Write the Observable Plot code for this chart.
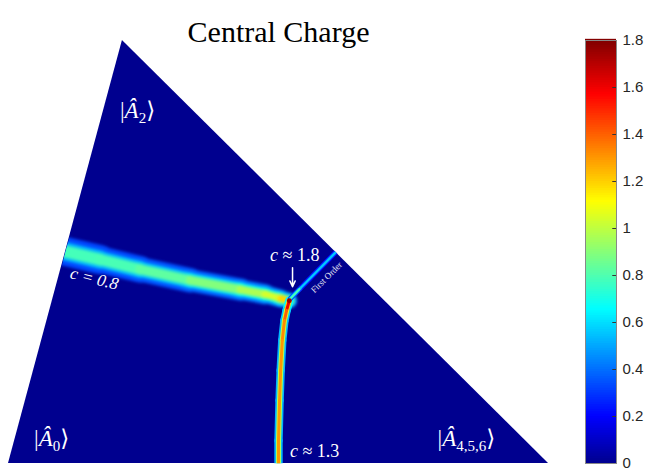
<!DOCTYPE html>
<html>
<head>
<meta charset="utf-8">
<script src="https://cdn.jsdelivr.net/npm/d3@7"></script>
<script src="https://cdn.jsdelivr.net/npm/@observablehq/plot@0.6"></script>
<style>
  body { margin: 0; background: #fff; }
  #wrap { position: relative; width: 648px; height: 468px; overflow: hidden; }
  #colorbar { position: absolute; left: 560px; top: 0; background: transparent; }
  #phase { position: absolute; left: 0; top: 0; }
</style>
</head>
<body>
<div id="wrap"></div>
<script>
// Phase diagram on the (A0, A2, A4,5,6) triangle, coordinates normalised to the bounding box.
const triangleX = [0, 0.211, 1];
const triangleY = [0, 1, 0];

// Crossover band with c ≈ 0.8, running in from the left edge to the junction.
const bandX = [0.096, 0.170, 0.244, 0.337, 0.430, 0.476, 0.504, 0.520];
const bandY = [0.504, 0.482, 0.459, 0.433, 0.411, 0.400, 0.390, 0.385];
const bandC = [0.78, 0.78, 0.80, 0.85, 0.93, 1.00, 1.08, 1.30];

// Critical line with c ≈ 1.3, from the junction down to the bottom edge.
const criticalX = [0.520, 0.515, 0.511, 0.507, 0.504, 0.502, 0.500, 0.500];
const criticalY = [0.385, 0.362, 0.338, 0.291, 0.220, 0.149, 0.054, -0.020];
const criticalC = [1.75, 1.45, 1.35, 1.30, 1.30, 1.30, 1.30, 1.30];

// First-order line, from the junction to the right edge.
const firstOrderX = [0.522, 0.541, 0.611];
const firstOrderY = [0.390, 0.415, 0.506];
const firstOrderC = [1.00, 0.58, 0.55];

const colorTicks = [0, 0.2, 0.4, 0.6, 0.8, 1, 1.2, 1.4, 1.6, 1.8];

// MATLAB-style jet colormap over [0, 1.8]
const jet = {
  type: "linear",
  domain: [0, 0.2, 0.657, 1.114, 1.571, 1.8],
  range: ["#00008f", "#0000ff", "#00ffff", "#ffff00", "#ff0000", "#800000"],
  interpolate: "rgb",
  clamp: true
};

const serif = "'Liberation Serif', 'DejaVu Serif', serif";

function segments(xs, ys, cs) {
  const n = xs.length - 1;
  return d3.range(n).map(i => ({
    x1: xs[i], y1: ys[i], x2: xs[i + 1], y2: ys[i + 1],
    c: (cs[i] + cs[i + 1]) / 2,
    t: n > 1 ? i / (n - 1) : 0
  }));
}

// each ridge is drawn as a halo, a shoulder and a core
function ridge(segs, w0, w1, layers) {
  return layers.map(({k, w}) => Plot.link(segs, {
    x1: "x1", y1: "y1", x2: "x2", y2: "y2",
    stroke: d => d.c * k,
    strokeWidth: d => (w0 + (w1 - w0) * d.t) * w,
    strokeLinecap: "round"
  }));
}
const bandLayers = [{k: 0.42, w: 2.4}, {k: 0.66, w: 1.55}, {k: 1, w: 1}];
const lineLayers = [{k: 0.4, w: 2.8}, {k: 0.75, w: 1.7}, {k: 1, w: 1}];

const triangle = triangleX.map((x, i) => ({x, y: triangleY[i]}));
const label = (text, x, y, o = {}) => Plot.text([text], {
  x, y, text: d => d, fill: "white", fontFamily: serif, fontSize: 18, ...o
});

const chart = Plot.plot({
  width: 648, height: 468,
  marginLeft: 8, marginRight: 100, marginTop: 40, marginBottom: 5,
  x: {domain: [0, 1], axis: null},
  y: {domain: [0, 1], axis: null},
  color: jet,
  marks: [
    Plot.areaY(triangle, {x: "x", y: "y", fill: () => 0}),
    ...ridge(segments(bandX, bandY, bandC), 12, 6.5, bandLayers),
    ...ridge(segments(criticalX, criticalY, criticalC), 3, 3, lineLayers),
    ...ridge(segments(firstOrderX, firstOrderY, firstOrderC), 1.8, 1.8, lineLayers),
    Plot.dot([0], {x: criticalX[0], y: criticalY[0], r: 2.4, fill: () => criticalC[0]}),
    Plot.arrow([0], {x1: 0.526, y1: 0.463, x2: 0.526, y2: 0.418, stroke: "white", strokeWidth: 1.5, headLength: 7, headAngle: 50}),
    label("|Â₂⟩", 0.239, 0.835, {fontSize: 23}),
    label("|Â₀⟩", 0.080, 0.059, {fontSize: 23}),
    label("|Â₄,₅,₆⟩", 0.848, 0.059, {fontSize: 23}),
    label("c = 0.8", 0.159, 0.437, {rotate: 14, fontSize: 17}),
    label("c ≈ 1.8", 0.530, 0.492),
    label("c ≈ 1.3", 0.567, 0.028),
    label("First Order", 0.589, 0.440, {rotate: -45, fontSize: 9, fill: "#e8e8f4"}),
    Plot.text(["Central Charge"], {frameAnchor: "top", dy: -20, text: d => d, fontSize: 30, fontFamily: serif, fill: "black"})
  ]
});
chart.setAttribute("id", "phase");

// soft edges, clipped to the triangle
const svg = d3.select(chart);
const defs = svg.insert("defs", ":first-child");
defs.append("clipPath").attr("id", "triangle-clip")
  .append("path").attr("d", svg.select('g[aria-label="area"] path').attr("d"));
[["soft", 1.7], ["fine", 0.6]].forEach(([id, s]) => {
  defs.append("filter").attr("id", id)
    .attr("filterUnits", "userSpaceOnUse")
    .attr("x", 0).attr("y", 0).attr("width", 648).attr("height", 468)
    .append("feGaussianBlur").attr("stdDeviation", s);
});
svg.selectAll('g[aria-label="link"]').each(function(_, i) {
  d3.select(this).attr("clip-path", "url(#triangle-clip)")
    .attr("filter", i < bandLayers.length ? "url(#soft)" : "url(#fine)");
});
svg.selectAll('g[aria-label="dot"]').attr("filter", "url(#fine)");

// math typesetting for the labels
const ket = sub => '|<tspan font-style="italic">Â</tspan><tspan dy="5" font-size="15">' + sub + '</tspan><tspan dy="-5">⟩</tspan>';
const markup = new Map([
  ["|Â₂⟩", ket("2")],
  ["|Â₀⟩", ket("0")],
  ["|Â₄,₅,₆⟩", ket("4,5,6")],
  ["c = 0.8", '<tspan font-style="italic">c = 0.8</tspan>'],
  ["c ≈ 1.8", '<tspan font-style="italic">c</tspan> ≈ 1.8'],
  ["c ≈ 1.3", '<tspan font-style="italic">c</tspan> ≈ 1.3']
]);
svg.selectAll('g[aria-label="text"] text').each(function() {
  const m = markup.get(this.textContent);
  if (m) this.innerHTML = m;
});

const colorbar = Plot.plot({
  width: 88, height: 468,
  marginLeft: 25, marginRight: 32, marginTop: 40, marginBottom: 5,
  x: {domain: [0, 1], axis: null},
  y: {domain: [0, 1.8], axis: "right", ticks: colorTicks, tickSize: 0, tickPadding: 6, tickFormat: d3.format("~g"), label: null},
  color: jet,
  style: {fontSize: "15px", fontFamily: "'Liberation Sans', Arial, sans-serif", color: "#262626", background: "transparent", overflow: "visible"},
  marks: [
    Plot.rect(d3.range(0, 180).map(i => i / 100), {x1: 0, x2: 1, y1: d => d, y2: d => d + 0.015, fill: d => d + 0.005}),
    Plot.ruleY(colorTicks, {x1: 0.88, x2: 1, stroke: "#333"}),
    Plot.frame({stroke: "#888"})
  ]
});
colorbar.setAttribute("id", "colorbar");

const wrap = document.getElementById("wrap");
wrap.append(chart, colorbar);
</script>
</body>
</html>
